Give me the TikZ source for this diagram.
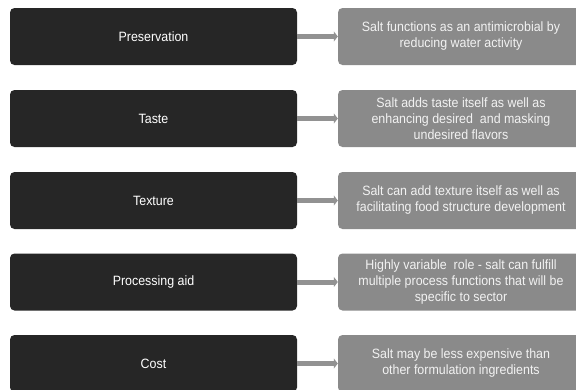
\documentclass[tikz,border=0pt]{standalone}
\usepackage{fontspec}
\setmainfont{Liberation Sans}[FakeStretch=0.92]
\usetikzlibrary{arrows.meta}
\definecolor{darkbox}{HTML}{262626}
\definecolor{graybox}{HTML}{8A8A8A}
\definecolor{arrowgray}{HTML}{929292}
\begin{document}
\begin{tikzpicture}[x=1pt,y=-1pt,
  keybox/.style={fill=darkbox, rounded corners=4.5pt, minimum width=287pt, minimum height=57pt,
    inner sep=0pt, text=white, font=\fontsize{13.5}{16}\selectfont},
  descbox/.style={fill=graybox, rounded corners=4.5pt, minimum width=246pt, minimum height=57pt,
    inner sep=0pt, text=white!95!black, align=center, font=\fontsize{13.5}{16}\selectfont},
  link/.style={draw=arrowgray, line width=5pt, -{Triangle[width=10pt,length=4pt]}, shorten <=-0.5pt, shorten >=0pt}
]
\useasboundingbox (0,0) rectangle (576,389);
\node[keybox] (k1) at (153.5,36.5) {Preservation};
\node[keybox] (k2) at (153.5,118.5) {Taste};
\node[keybox] (k3) at (153.5,200.5) {Texture};
\node[keybox] (k4) at (153.5,282) {Processing aid};
\node[keybox] (k5) at (153.5,363.5) {Cost};
\node[descbox] (d1) at (461,36.5) {Salt functions as an antimicrobial by\\reducing water activity};
\node[descbox] (d2) at (461,118.5) {Salt adds taste itself as well as\\enhancing desired\ \ and masking\\undesired flavors};
\node[descbox] (d3) at (461,200.5) {Salt can add texture itself as well as\\facilitating food structure development};
\node[descbox] (d4) at (461,282) {Highly variable\ \ role - salt can fulfill\\multiple process functions that will be\\specific to sector};
\node[descbox] (d5) at (461,363.5) {Salt may be less expensive than\\other formulation ingredients};
\foreach \i in {1,...,5} {
  \draw[link] (k\i.east) -- (d\i.west);
}
\end{tikzpicture}
\end{document}
